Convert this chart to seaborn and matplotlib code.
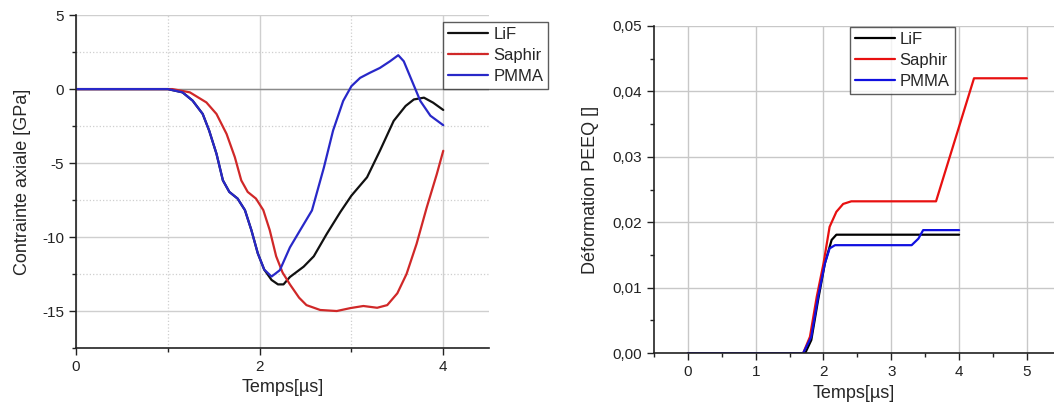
import numpy as np
import pandas as pd
import matplotlib
matplotlib.use("Agg")
import matplotlib.pyplot as plt
import seaborn as sns
from matplotlib.ticker import MultipleLocator, FuncFormatter

# Contrainte axiale (GPa) vs temps (µs)
t_lif = [0.0, 1.0, 1.16, 1.27, 1.38, 1.45, 1.53, 1.60, 1.67, 1.76, 1.84, 1.91, 1.98, 2.05, 2.13, 2.2,
         2.26, 2.33, 2.48, 2.59, 2.73, 2.88, 3.0, 3.17, 3.31, 3.46, 3.59, 3.68, 3.79, 3.89, 4.0]
s_lif = [0.0, 0.0, -0.22, -0.78, -1.68, -2.8, -4.37, -6.17, -6.95, -7.4, -8.18, -9.53, -11.1, -12.2, -12.9, -13.2,
         -13.2, -12.7, -12.0, -11.3, -9.8, -8.3, -7.2, -5.96, -4.17, -2.15, -1.14, -0.7, -0.58, -0.92, -1.41]

t_pmma = [0.0, 1.0, 1.16, 1.27, 1.38, 1.45, 1.53, 1.60, 1.67, 1.76, 1.84, 1.91, 1.98, 2.05, 2.13, 2.22,
          2.33, 2.44, 2.57, 2.70, 2.80, 2.91, 3.0, 3.095, 3.20, 3.31, 3.42, 3.51, 3.57, 3.66, 3.75, 3.86, 4.0]
s_pmma = [0.0, 0.0, -0.22, -0.78, -1.68, -2.8, -4.37, -6.17, -6.95, -7.4, -8.18, -9.53, -11.1, -12.2, -12.67, -12.24,
          -10.7, -9.55, -8.2, -5.3, -2.8, -0.8, 0.2, 0.76, 1.1, 1.43, 1.88, 2.29, 1.88, 0.54, -0.8, -1.8, -2.44]

t_saph = [0.0, 1.05, 1.24, 1.42, 1.53, 1.64, 1.73, 1.80, 1.87, 1.96, 2.04, 2.11, 2.18, 2.25, 2.33, 2.43,
          2.51, 2.66, 2.84, 2.99, 3.13, 3.28, 3.39, 3.50, 3.60, 3.71, 3.82, 3.93, 4.0]
s_saph = [0.0, 0.0, -0.22, -0.9, -1.68, -3.03, -4.6, -6.17, -6.95, -7.4, -8.18, -9.53, -11.3, -12.4, -13.2, -14.1,
          -14.6, -14.93, -15.0, -14.8, -14.66, -14.78, -14.6, -13.8, -12.5, -10.45, -8.0, -5.74, -4.17]

# Déformation PEEQ vs temps (µs)
tp_lif = [0.0, 1.73, 1.82, 1.92, 2.02, 2.12, 2.19, 4.0]
e_lif = [0.0, 0.0, 0.002, 0.0081, 0.0137, 0.0173, 0.0181, 0.0181]

tp_saph = [0.0, 1.70, 1.80, 1.90, 2.0, 2.09, 2.19, 2.29, 2.41, 3.66, 4.22, 5.0]
e_saph = [0.0, 0.0, 0.0025, 0.0086, 0.0137, 0.0193, 0.0216, 0.0228, 0.0232, 0.0232, 0.042, 0.042]

tp_pmma = [0.0, 1.70, 1.82, 1.92, 2.02, 2.09, 2.17, 3.30, 3.40, 3.47, 4.0]
e_pmma = [0.0, 0.0, 0.0025, 0.0086, 0.0137, 0.016, 0.0165, 0.0165, 0.0175, 0.0188, 0.0188]

materials = ["LiF", "Saphir", "PMMA"]

sns.set_style("ticks")
plt.rcParams['font.family'] = ['Liberation Sans', 'DejaVu Sans']
plt.rcParams['axes.unicode_minus'] = False

df1 = pd.concat([
    pd.DataFrame({"t": t_lif, "v": s_lif, "mat": "LiF"}),
    pd.DataFrame({"t": t_saph, "v": s_saph, "mat": "Saphir"}),
    pd.DataFrame({"t": t_pmma, "v": s_pmma, "mat": "PMMA"}),
])
df2 = pd.concat([
    pd.DataFrame({"t": tp_lif, "v": e_lif, "mat": "LiF"}),
    pd.DataFrame({"t": tp_saph, "v": e_saph, "mat": "Saphir"}),
    pd.DataFrame({"t": tp_pmma, "v": e_pmma, "mat": "PMMA"}),
])

fig = plt.figure(figsize=(10.54, 4.05), dpi=100)
ax1 = fig.add_axes([0.0721, 0.1407, 0.392, 0.822])
ax2 = fig.add_axes([0.6205, 0.128, 0.3795, 0.808])

# ---- panneau gauche ----
pal1 = {"LiF": "#111111", "Saphir": "#d02828", "PMMA": "#2828c8"}
sns.lineplot(data=df1, x="t", y="v", hue="mat", hue_order=materials, palette=pal1,
             linewidth=1.6, sort=False, ax=ax1)
ax1.set_xlim(0, 4.5)
ax1.set_ylim(-17.5, 5)
ax1.xaxis.set_major_locator(MultipleLocator(2))
ax1.xaxis.set_minor_locator(MultipleLocator(1))
ax1.yaxis.set_major_locator(MultipleLocator(5))
ax1.yaxis.set_minor_locator(MultipleLocator(2.5))
ax1.grid(which="major", color="#cfcfcf", linewidth=1.0, linestyle="-")
ax1.grid(which="minor", color="#cfcfcf", linewidth=0.9, linestyle=":")
ax1.axhline(0, color="#8a8a8a", linewidth=1.0, zorder=1)
ax1.set_axisbelow(True)
ax1.set_xlabel("Temps[µs]", fontsize=13)
ax1.set_ylabel("Contrainte axiale [GPa]", fontsize=13, labelpad=8)
h, l = ax1.get_legend_handles_labels()
ax1.legend(h, l, loc="upper left", bbox_to_anchor=(0.889, 0.979), borderaxespad=0,
           frameon=True, fancybox=False, edgecolor="#333333", fontsize=12,
           handlelength=2.4, labelspacing=0.35, handletextpad=0.3, borderpad=0.3)

# ---- panneau droit ----
pal2 = {"LiF": "#000000", "Saphir": "#e81010", "PMMA": "#1010e0"}
sns.lineplot(data=df2, x="t", y="v", hue="mat", hue_order=materials, palette=pal2,
             linewidth=1.6, sort=False, ax=ax2)
ax2.set_xlim(-0.5, 5.4)
ax2.set_ylim(0, 0.05)
ax2.xaxis.set_major_locator(MultipleLocator(1))
ax2.xaxis.set_minor_locator(MultipleLocator(0.5))
ax2.yaxis.set_major_locator(MultipleLocator(0.01))
ax2.yaxis.set_minor_locator(MultipleLocator(0.005))
ax2.yaxis.set_major_formatter(FuncFormatter(lambda v, p: f"{v:.2f}".replace(".", ",")))
ax2.grid(which="major", color="#c8c8c8", linewidth=1.0, linestyle="-")
ax2.set_axisbelow(True)
ax2.set_xlabel("Temps[µs]", fontsize=13)
ax2.set_ylabel("Déformation PEEQ []", fontsize=13, labelpad=10)
h, l = ax2.get_legend_handles_labels()
ax2.legend(h, l, loc="upper left", bbox_to_anchor=(0.489, 0.997), borderaxespad=0,
           frameon=True, fancybox=False, edgecolor="#333333", fontsize=12,
           handlelength=2.4, labelspacing=0.35, handletextpad=0.3, borderpad=0.3)

for ax in (ax1, ax2):
    sns.despine(ax=ax)
    for s in ("left", "bottom"):
        ax.spines[s].set_color("#222222")
        ax.spines[s].set_linewidth(1.2)
    ax.tick_params(which="major", direction="out", length=5, width=1, labelsize=11, colors="#222222")
    ax.tick_params(which="minor", direction="out", length=3, width=1, colors="#222222")

fig.savefig("out.png", dpi=100)
